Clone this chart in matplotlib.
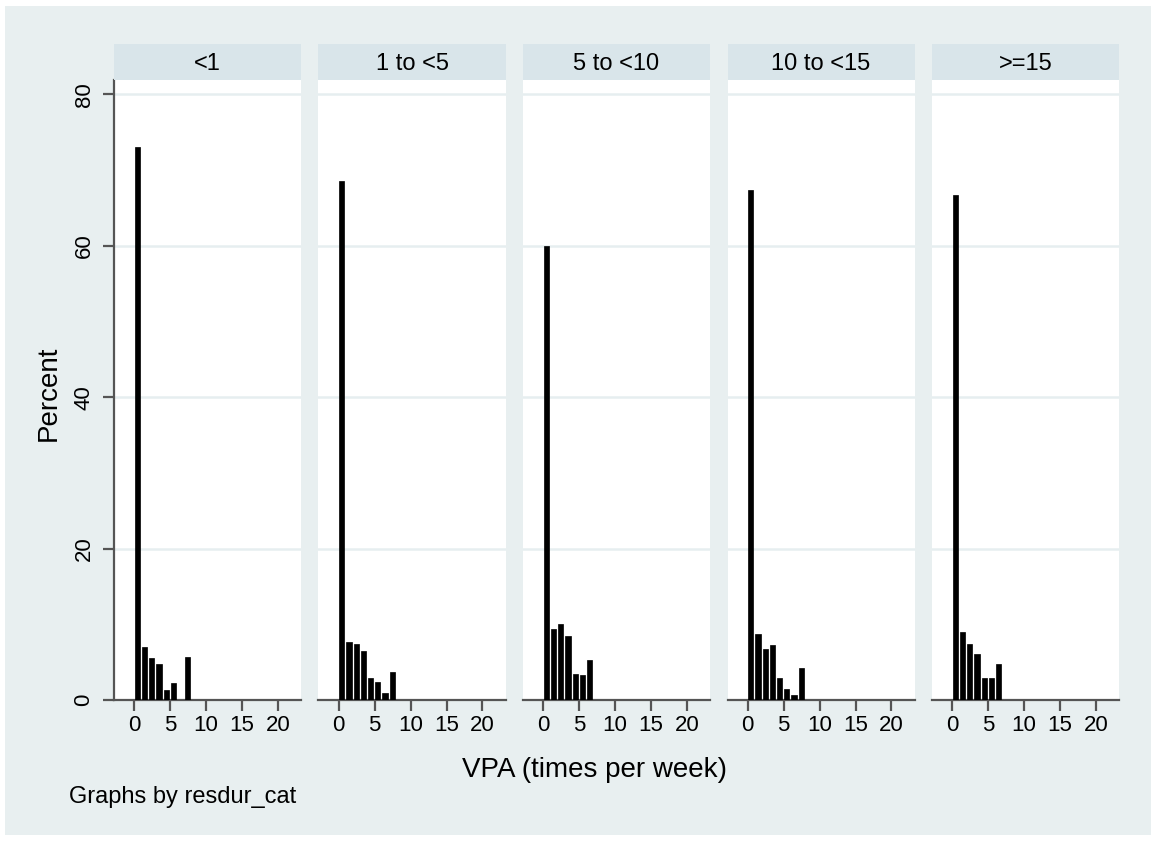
import numpy as np
import matplotlib
matplotlib.use("Agg")
import matplotlib.pyplot as plt
from matplotlib.patches import Rectangle

plt.rcParams['font.family'] = ['Liberation Sans', 'DejaVu Sans']

# data (percent per VPA value, 0..7)
groups = ['<1', '1 to <5', '5 to <10', '10 to <15', '>=15']
vpa_values = [0, 1, 2, 3, 4, 5, 6, 7]
pct_lt1 = [73.0, 7.0, 5.5, 4.8, 1.3, 2.2, 0.0, 5.7]
pct_1to5 = [68.6, 7.7, 7.4, 6.5, 2.9, 2.4, 0.9, 3.7]
pct_5to10 = [60.0, 9.4, 10.0, 8.5, 3.5, 3.3, 5.3, 0.0]
pct_10to15 = [67.4, 8.7, 6.8, 7.2, 2.9, 1.5, 0.6, 4.2]
pct_ge15 = [66.7, 9.0, 7.4, 6.1, 2.9, 2.9, 4.8, 0.0]
all_pct = [pct_lt1, pct_1to5, pct_5to10, pct_10to15, pct_ge15]

W, H = 1151, 842
bg = '#e8eff0'
strip_col = '#d9e5ea'
grid_col = '#e6eef0'
axis_col = '#555555'

fig = plt.figure(figsize=(W / 100, H / 100), dpi=100)
fig.patch.set_facecolor('white')
fig.patches.append(Rectangle((5 / W, 1 - 835 / H), 1 - 5 / W, (835 - 6) / H,
                             transform=fig.transFigure, facecolor=bg,
                             edgecolor='none', zorder=-10))


def fx(px):
    return px / W


def fy(py):
    return 1 - py / H


top, bottom = 80, 700
pw = 187
for i, (name, pct) in enumerate(zip(groups, all_pct)):
    left = 114 + i * 204.5
    ax = fig.add_axes([fx(left), fy(bottom), fx(pw), (bottom - top) / H])
    ax.set_facecolor('white')
    centers = np.array(vpa_values) + 0.45
    ax.bar(centers, pct, width=0.72, color='black', edgecolor='black', linewidth=0.5, zorder=3)
    ax.set_xlim(-2.8, 23.2)
    ax.set_ylim(0, 81.9)
    for g in [20, 40, 60, 80]:
        ax.axhline(g, color=grid_col, lw=1.8, zorder=1)
    ax.set_xticks([0, 5, 10, 15, 20])
    ax.tick_params(axis='x', length=8, width=1.6, color=axis_col, labelsize=16, pad=3)
    for s in ['top', 'right']:
        ax.spines[s].set_visible(False)
    ax.spines['bottom'].set_color(axis_col)
    ax.spines['bottom'].set_linewidth(1.6)
    if i == 0:
        ax.spines['left'].set_color(axis_col)
        ax.spines['left'].set_linewidth(1.6)
        ax.set_yticks([0, 20, 40, 60, 80])
        ax.tick_params(axis='y', length=8, width=1.6, color=axis_col, labelsize=16, pad=6)
        for lab in ax.get_yticklabels():
            lab.set_rotation(90)
            lab.set_va('center')
    else:
        ax.spines['left'].set_visible(False)
        ax.set_yticks([])
    # strip
    sax = fig.add_axes([fx(left), fy(top), fx(pw), 36 / H])
    sax.set_facecolor(strip_col)
    sax.set_xticks([])
    sax.set_yticks([])
    for s in sax.spines.values():
        s.set_visible(False)
    sax.text(0.5, 0.45, name, ha='center', va='center', fontsize=17, transform=sax.transAxes)

fig.text(fx(49), fy(393), 'Percent', ha='center', va='center', rotation=90, fontsize=20)
fig.text(fx(594), fy(770), 'VPA (times per week)', ha='center', va='center', fontsize=20)
fig.text(fx(69), fy(797), 'Graphs by resdur_cat', ha='left', va='center', fontsize=17)

fig.savefig('out.png', dpi=100, facecolor='white')
